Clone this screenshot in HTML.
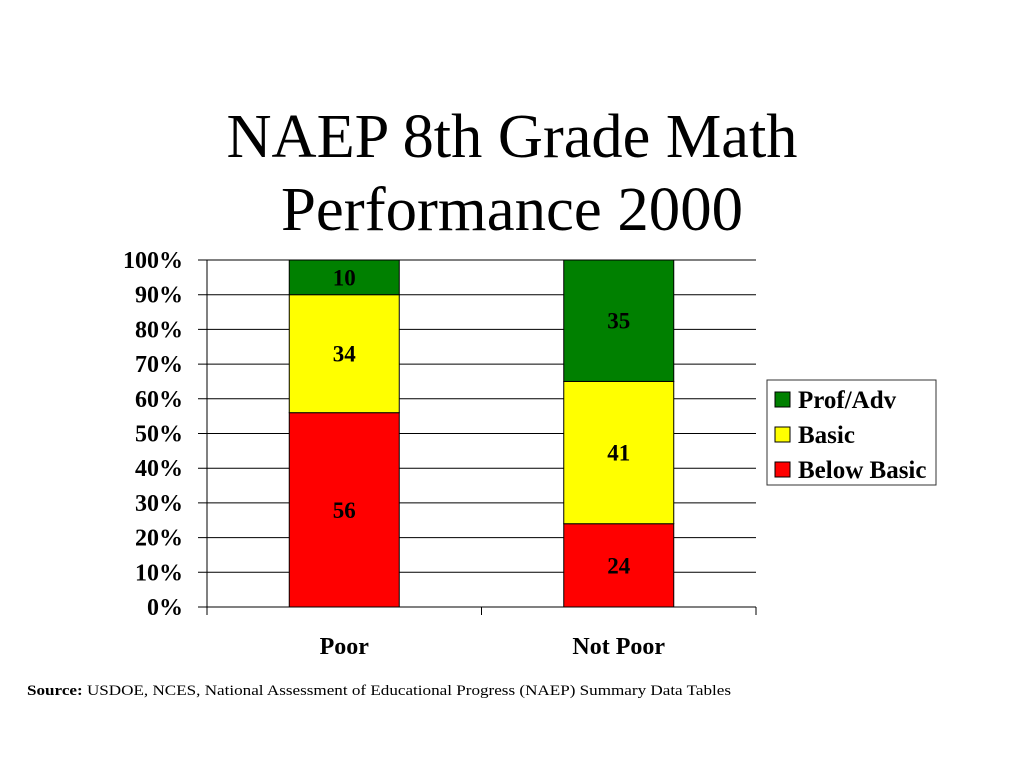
<!DOCTYPE html>
<html><head><meta charset="utf-8"><style>
html,body{margin:0;padding:0;background:#fff}
svg{display:block}
text{font-family:"Liberation Serif","Times New Roman",serif}
</style></head><body>
<svg id="chart" width="1024" height="768" viewBox="0 0 1024 768" xmlns="http://www.w3.org/2000/svg">
<text x="512" y="157" font-size="62" text-anchor="middle" textLength="571" lengthAdjust="spacingAndGlyphs">NAEP 8th Grade Math</text>
<text x="512" y="230" font-size="62" text-anchor="middle" textLength="462" lengthAdjust="spacingAndGlyphs">Performance 2000</text>
<g id="grid"></g>
<g id="bars"></g>
<g id="legend">
<rect x="767" y="380" width="169" height="105" fill="#fff" stroke="#333" stroke-width="1"/>
</g>
<text x="27" y="695" font-size="15" textLength="704" lengthAdjust="spacingAndGlyphs"><tspan font-weight="bold">Source:</tspan> USDOE, NCES, National Assessment of Educational Progress (NAEP) Summary Data Tables</text>
</svg>
<script>
const categories = ["Poor", "Not Poor"];
const belowBasic = [56, 24];
const basic = [34, 41];
const profAdv = [10, 35];
const yTicks = [0,10,20,30,40,50,60,70,80,90,100];
const seriesNames = ["Prof/Adv","Basic","Below Basic"];

const NS="http://www.w3.org/2000/svg";
const svg=document.getElementById('chart');
const X0=207,X1=756,Y0=607,Y1=260;
const y=v=>Y0-(v/100)*(Y0-Y1);
const band=(X1-X0)/categories.length;
const xc=i=>X0+band*(i+0.5);
const BW=110;
function mk(tag,attrs,parent){const e=document.createElementNS(NS,tag);for(const k in attrs)e.setAttribute(k,attrs[k]);parent.appendChild(e);return e;}
const grid=document.getElementById('grid');
yTicks.forEach(t=>{
  const l=mk('line',{x1:198,x2:X1,y1:y(t),y2:y(t),stroke:'#000','stroke-width':1},grid);
  
  
  const tx=mk('text',{x:183,y:y(t)+8,'font-size':24,'font-weight':'bold','text-anchor':'end'},grid);
  tx.textContent=t+'%';
  
  
});
mk('line',{x1:X0,x2:X0,y1:Y1,y2:Y0+8,stroke:'#000'},grid);
for(let i=0;i<=categories.length;i++){mk('line',{x1:X0+band*i,x2:X0+band*i,y1:Y0,y2:Y0+8,stroke:'#000'},grid);}
const bars=document.getElementById('bars');
const colors=['#ff0000','#ffff00','#008000'];
categories.forEach((c,i)=>{
  const vals=[belowBasic[i],basic[i],profAdv[i]];
  let acc=0;
  vals.forEach((v,s)=>{
    const r=mk('rect',{x:xc(i)-BW/2,y:y(acc+v),width:BW,height:y(acc)-y(acc+v),fill:colors[s],stroke:'#000','stroke-width':1},bars);
    
    
    const t=mk('text',{x:xc(i),y:(y(acc)+y(acc+v))/2+8,'font-size':23,'font-weight':'bold','text-anchor':'middle'},bars);
    t.textContent=v;
    
    
    acc+=v;
  });
  const cl=mk('text',{x:xc(i),y:654,'font-size':24,'font-weight':'bold','text-anchor':'middle'},bars);
  cl.textContent=c;
  
  
});
const lg=document.getElementById('legend');
const lcol=['#008000','#ffff00','#ff0000'];
seriesNames.forEach((n,k)=>{
  const yy=392+k*35;
  const sw=mk('rect',{x:775,y:yy,width:15,height:15,fill:lcol[k],stroke:'#000'},lg);
  
  
  const t=mk('text',{x:798,y:yy+16,'font-size':25,'font-weight':'bold'},lg);
  t.textContent=n;
  
  
});
</script>
</body></html>
